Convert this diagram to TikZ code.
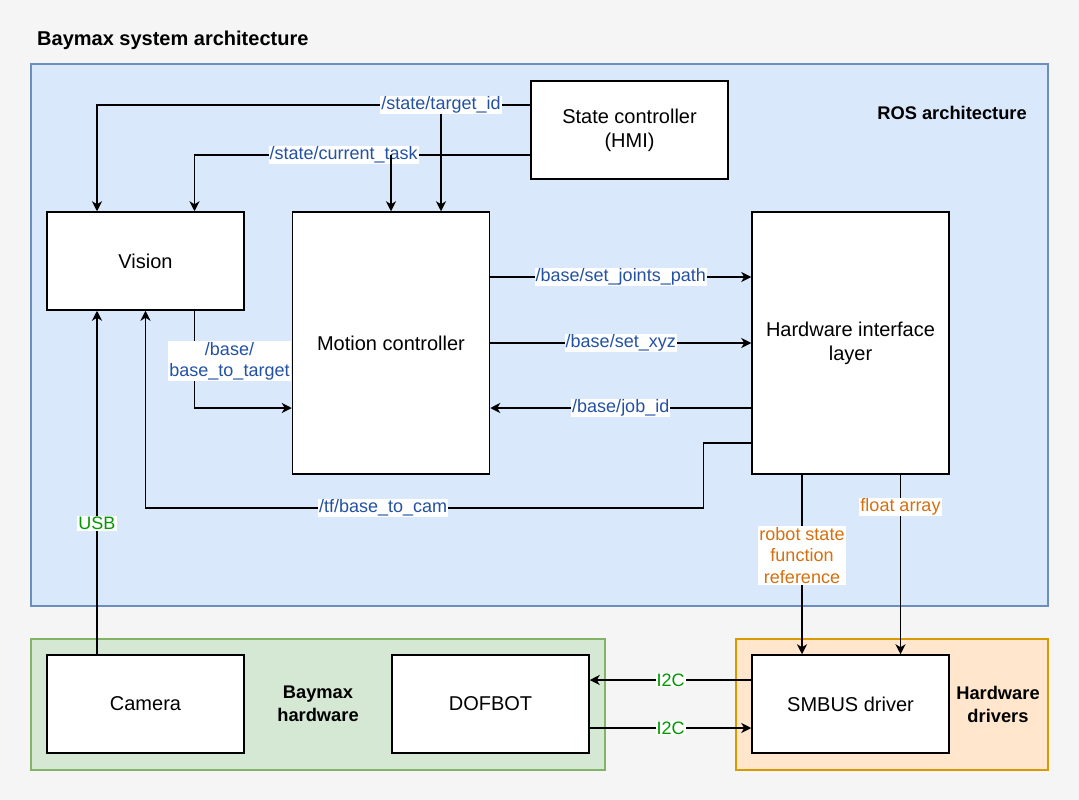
\documentclass[tikz,border=0pt]{standalone}
\usepackage{fontspec}
\setmainfont{Liberation Sans}
\usepackage{xcolor}
\usetikzlibrary{positioning}
\usetikzlibrary{arrows.meta}

\definecolor{bgc}{HTML}{F5F5F5}
\definecolor{rosfill}{HTML}{DAE8FC}
\definecolor{rosline}{HTML}{6C8EBF}
\definecolor{hwfill}{HTML}{D5E8D4}
\definecolor{hwline}{HTML}{82B366}
\definecolor{drvfill}{HTML}{FFE6CC}
\definecolor{drvline}{HTML}{D79B00}
\definecolor{topicc}{HTML}{2352A5}
\definecolor{busc}{HTML}{009900}
\definecolor{datac}{HTML}{D4700F}

\newcommand{\boxfont}{\fontsize{20}{24}\selectfont}
\newcommand{\grpfont}{\fontsize{18.3}{23}\selectfont}
\newcommand{\lblfont}{\fontsize{18}{21.5}\selectfont}

\tikzset{
  link/.style={draw, line width=1.4pt, -{Stealth[length=10pt,width=10pt,inset=3pt]}},
  lbl/.style={fill=white, inner sep=1pt, align=center, font=\lblfont},
  topic/.style={lbl, text=topicc},
  bus/.style={lbl, text=busc},
  data/.style={lbl, text=datac},
  group/.style={inner sep=0pt, align=center, font=\grpfont\bfseries}
}

\begin{document}
\begin{tikzpicture}[x=1pt,y=-1pt]
% background and groups
\fill[bgc] (0,0) rectangle (1079,800);
\draw[rosline, fill=rosfill, line width=1.3pt] (31,64) rectangle (1048,606);
\draw[hwline, fill=hwfill, line width=1.3pt] (31,639) rectangle (605,770);
\draw[drvline, fill=drvfill, line width=1.3pt] (736,639) rectangle (1048,770);

\node[group, anchor=west, font=\boxfont\bfseries] (title) at (37,40) {Baymax system architecture};
\node[group, anchor=east] (ros) at (1027,113) {ROS architecture};
\node[group] (bhw) at (318,704) {Baymax\\hardware};
\node[group] (hwd) at (998,704) {Hardware\\drivers};

\begin{scope}[every node/.style={draw, fill=white, line width=1.5pt, minimum width=197pt,
              minimum height=98pt, align=center, font=\boxfont}]
   \node (state) at (629.5,130) {State controller\\(HMI)};
   \node (vision) at (145.5,261) {Vision};
   \node[minimum height=262pt] (motion) at (391,343) {Motion controller};
   \node[minimum height=262pt] (hil) at (850.5,343) {Hardware interface\\layer};

   \node (camera) at (145.5,704) {Camera};
   \node (dofbot) at (490.5,704) {DOFBOT};
   \node (smbus) at (850.5,704) {SMBUS driver};
\end{scope}

% state topics
\coordinate (tid) at ([yshift=25pt]state.west);
\coordinate (ctask) at ([yshift=-25pt]state.west);
\coordinate (mtid) at ([xshift=50pt]motion.north);
\draw[link] (tid) -| ([xshift=-48.5pt]vision.north);
\draw[link] (mtid |- tid) -- (mtid);
\node[topic] at (mtid |- tid) {/state/target\_id};
\draw[link] (ctask) -| node[topic, pos=0.278] {/state/current\_task} ([xshift=49pt]vision.north);
\draw[link] (motion.north |- ctask) -- (motion.north);

% base topics
\draw[link] ([xshift=49pt]vision.south) |- node[topic, pos=0.26, xshift=35pt] {/base/\\base\_to\_target} ([yshift=-65pt]motion.west);
\draw[link] ([yshift=66pt]motion.east) -- node[topic] {/base/set\_joints\_path} ([yshift=66pt]hil.west);
\draw[link] (motion.east) -- node[topic] {/base/set\_xyz} (hil.west);
\draw[link] ([yshift=-65pt]hil.west) -- node[topic] {/base/job\_id} ([yshift=-65pt]motion.east);
\coordinate (tfc) at (703.5,508);
\draw[link] ([yshift=-100pt]hil.west) -| (tfc) -| node[topic, pos=0.287] {/tf/base\_to\_cam} (vision.south);

% hardware links
\draw[link] ([xshift=-48.5pt]camera.north) -- node[bus, pos=0.38] {USB} ([xshift=-48.5pt]vision.south);
\draw[link] ([xshift=-48.5pt]hil.south) -- node[data, pos=0.45] {robot state\\function\\reference} ([xshift=-48.5pt]smbus.north);
\draw[link] ([xshift=50pt]hil.south) -- node[data, pos=0.18] {float array} ([xshift=50pt]smbus.north);
\draw[link] ([yshift=24pt]smbus.west) -- node[bus] {I2C} ([yshift=24pt]dofbot.east);
\draw[link] ([yshift=-24pt]dofbot.east) -- node[bus] {I2C} ([yshift=-24pt]smbus.west);
\end{tikzpicture}
\end{document}
